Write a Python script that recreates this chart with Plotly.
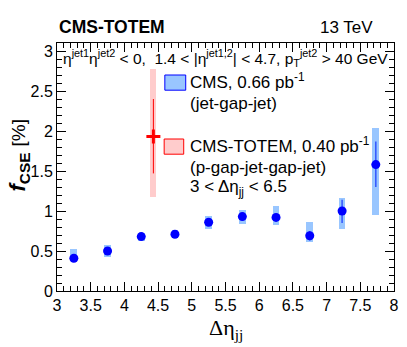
import plotly.graph_objects as go

# CMS (jet-gap-jet) points
cms_x = [3.25, 3.75, 4.25, 4.75, 5.25, 5.75, 6.25, 6.75, 7.23, 7.73]
cms_y = [0.41, 0.50, 0.68, 0.71, 0.86, 0.93, 0.92, 0.69, 1.00, 1.58]
cms_stat_up = [0.03, 0.03, 0.03, 0.03, 0.04, 0.04, 0.05, 0.06, 0.14, 0.29]
cms_stat_dn = [0.03, 0.03, 0.03, 0.03, 0.04, 0.04, 0.05, 0.06, 0.15, 0.28]
cms_syst_lo = [0.37, 0.43, 0.63, 0.66, 0.77, 0.84, 0.82, 0.61, 0.78, 0.95]
cms_syst_hi = [0.53, 0.58, 0.73, 0.76, 0.94, 1.01, 1.06, 0.86, 1.16, 2.04]

# CMS-TOTEM (p-gap-jet-gap-jet) point
ct_x = [4.43]
ct_y = [1.93]
ct_stat_up = [0.47]
ct_stat_dn = [0.46]
ct_syst_lo = [1.17]
ct_syst_hi = [2.78]

FONT = "Liberation Sans, Arial, Helvetica, sans-serif"
SERIF = "Liberation Serif, Times New Roman, serif"
BLUE = "#0000ff"
LBLUE = "#99c6ff"
RED = "#ff0000"
LRED = "#ffcccc"

fig = go.Figure()

# systematic boxes
fig.add_trace(go.Bar(
    x=cms_x, y=[h - l for h, l in zip(cms_syst_hi, cms_syst_lo)], base=cms_syst_lo,
    width=0.1, marker=dict(color=LBLUE, line=dict(width=0)), showlegend=False,
))
fig.add_trace(go.Bar(
    x=ct_x, y=[h - l for h, l in zip(ct_syst_hi, ct_syst_lo)], base=ct_syst_lo,
    width=0.09, marker=dict(color=LRED, line=dict(width=0)), showlegend=False,
))

# points with stat errors
fig.add_trace(go.Scatter(
    x=cms_x, y=cms_y, mode="markers",
    marker=dict(color=BLUE, size=9),
    error_y=dict(type="data", symmetric=False, array=cms_stat_up, arrayminus=cms_stat_dn,
                 color="#3355ff", thickness=1.5, width=0),
    showlegend=False,
))
fig.add_trace(go.Scatter(
    x=ct_x, y=ct_y, mode="markers",
    marker=dict(color=RED, size=10, symbol="cross-thin", line=dict(color=RED, width=3)),
    error_y=dict(type="data", symmetric=False, array=ct_stat_up, arrayminus=ct_stat_dn,
                 color=RED, thickness=1, width=0),
    showlegend=False,
))

# legend entries (drawn by hand, ROOT style)
fig.add_shape(type="rect", x0=4.60, x1=4.91, y0=2.51, y1=2.70,
              fillcolor=LBLUE, line=dict(color=BLUE, width=1))
fig.add_shape(type="rect", x0=4.59, x1=4.88, y0=1.71, y1=1.90,
              fillcolor=LRED, line=dict(color=RED, width=1))
fig.add_trace(go.Scatter(x=[4.755], y=[2.605], mode="markers",
                         marker=dict(color=BLUE, size=8), showlegend=False))
fig.add_trace(go.Scatter(x=[4.735], y=[1.805], mode="markers",
                         marker=dict(color=RED, size=9, symbol="cross-thin",
                                     line=dict(color=RED, width=3)), showlegend=False))

annotations = [
    dict(x=4.94, y=2.62, text="CMS, 0.66 pb<sup>-1</sup>"),
    dict(x=4.94, y=2.35, text="(jet-gap-jet)"),
    dict(x=4.94, y=1.82, text="CMS-TOTEM, 0.40 pb<sup>-1</sup>"),
    dict(x=4.94, y=1.55, text="(p-gap-jet-gap-jet)"),
    dict(x=4.94, y=1.29, text="3 < Δη<sub>jj</sub> < 6.5"),
]
for a in annotations:
    fig.add_annotation(xref="x", yref="y", xanchor="left", yanchor="middle",
                       showarrow=False, font=dict(family=FONT, size=17, color="black"), **a)

fig.add_annotation(xref="paper", yref="paper", x=0.012, y=0.94, xanchor="left", yanchor="middle",
                   showarrow=False, font=dict(family=FONT, size=15.5, color="black"),
                   text="η<sup>jet1</sup>η<sup>jet2</sup> < 0,  1.4 < |η<sup>jet1,2</sup>| < 4.7, "
                        "p<sub>T</sub><sup>jet2</sup> > 40 GeV")
fig.add_annotation(xref="paper", yref="paper", x=0, y=1.0, xanchor="left", yanchor="bottom",
                   yshift=4, showarrow=False, font=dict(family=FONT, size=17.5, color="black"),
                   text="<b>CMS-TOTEM</b>")
fig.add_annotation(xref="paper", yref="paper", x=0.945, y=1.0, xanchor="right", yanchor="bottom",
                   yshift=4, showarrow=False, font=dict(family=FONT, size=17, color="black"),
                   text="13 TeV")
# axis titles
fig.add_annotation(xref="paper", yref="paper", x=-0.113, y=0.55, xanchor="center", yanchor="middle",
                   textangle=-90, showarrow=False, font=dict(family=FONT, size=22, color="black"),
                   text="<b><i>f</i><sub>CSE</sub></b> <span style='font-size:19px'>[%]</span>")
fig.add_annotation(xref="paper", yref="paper", x=0.5, y=-0.088, xanchor="center", yanchor="top",
                   showarrow=False, font=dict(family=SERIF, size=22, color="black"),
                   text="Δη<sub>jj</sub>")

axis_common = dict(showgrid=False, zeroline=False, showline=True, linecolor="black", linewidth=1,
                   mirror="ticks", ticks="inside", tickcolor="black", ticklen=9,
                   tickfont=dict(family=FONT, size=16, color="black"))
fig.update_xaxes(range=[3, 8], dtick=0.5, tick0=3,
                 minor=dict(dtick=0.1, ticks="inside", ticklen=5, tickcolor="black"),
                 **axis_common)
fig.update_yaxes(range=[0, 3.1], dtick=0.5, tick0=0,
                 minor=dict(dtick=0.1, ticks="inside", ticklen=5, tickcolor="black"),
                 **axis_common)

fig.update_layout(
    width=407, height=347,
    margin=dict(l=57, r=8, t=43, b=56),
    paper_bgcolor="white", plot_bgcolor="white",
    barmode="overlay", bargap=0,
    font=dict(family=FONT),
)

fig.write_html("out.html", config={"displayModeBar": False},
               post_script="document.body.style.margin='0';document.body.style.overflow='hidden';")
